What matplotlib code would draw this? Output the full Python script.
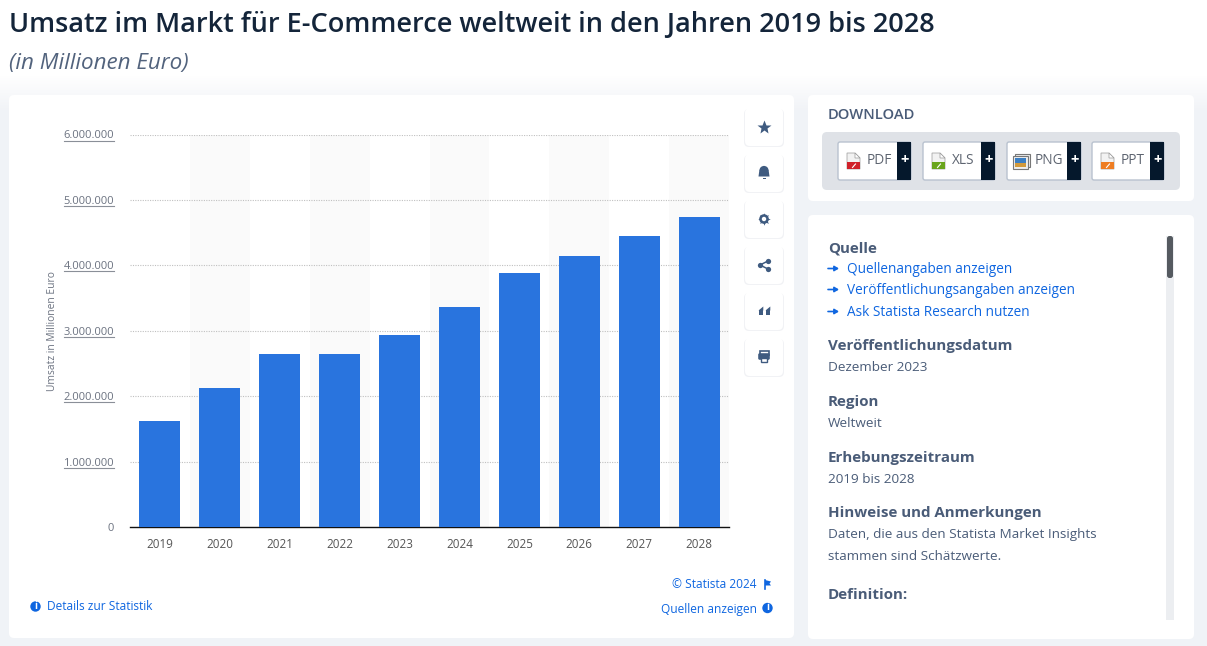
import matplotlib
matplotlib.use('Agg')
import matplotlib.pyplot as plt
import numpy as np
from matplotlib.patches import FancyBboxPatch, Rectangle, Polygon, Circle, Wedge

plt.rcParams['font.family'] = ['Open Sans', 'DejaVu Sans']

years = ['2019', '2020', '2021', '2022', '2023', '2024', '2025', '2026', '2027', '2028']
umsatz = [1620000, 2130000, 2650000, 2650000, 2930000, 3370000, 3890000, 4140000, 4450000, 4740000]
y_ticks = [0, 1000000, 2000000, 3000000, 4000000, 5000000, 6000000]
y_labels = ['0', '1.000.000', '2.000.000', '3.000.000', '4.000.000', '5.000.000', '6.000.000']

links = ['Quellenangaben anzeigen', 'Veröffentlichungsangaben anzeigen', 'Ask Statista Research nutzen']
formats = ['PDF', 'XLS', 'PNG', 'PPT']
format_colors = ['#d0212a', '#6aa51d', '#3b7fc4', '#ee7d22']

W, H = 1207, 646
NAVY = '#4a5c78'
ICON = '#3f5b80'
BLUE = '#0f66e0'
BAR = '#2974de'

fig = plt.figure(figsize=(W / 100, H / 100), dpi=100, facecolor='white')

# page layer in pixel coordinates
page = fig.add_axes([0, 0, 1, 1], zorder=0)
page.set_xlim(0, W)
page.set_ylim(H, 0)
page.axis('off')

# background goes from white behind the title to light grey behind the cards
shade = np.clip((np.arange(H) - 75) / 35, 0, 1).reshape(-1, 1, 1)
white = np.array([1.0, 1.0, 1.0]).reshape(1, 1, 3)
grey = np.array([0.945, 0.953, 0.969]).reshape(1, 1, 3)
page.imshow(white + (grey - white) * shade, extent=(0, W, H, 0), aspect='auto', zorder=0)
page.set_xlim(0, W)
page.set_ylim(H, 0)


def card(x, y, w, h, color='white', r=5, edge='none', lw=0, z=1):
    page.add_patch(FancyBboxPatch((x + r, y + r), w - 2 * r, h - 2 * r,
                                  boxstyle=f'round,pad={r},rounding_size={r}',
                                  fc=color, ec=edge, lw=lw, zorder=z))


def label(x, y, s, size=10, color=NAVY, weight='normal', ha='left', **kw):
    page.text(x, y + 1, s, fontsize=size, color=color, weight=weight, ha=ha, va='center', zorder=5, **kw)


label(9, 24, 'Umsatz im Markt für E-Commerce weltweit in den Jahren 2019 bis 2028',
      size=19.5, color='#14253a', weight='semibold')
label(9, 63, '(in Millionen Euro)', size=16.1, color='#52637d', style='italic')

card(9, 95, 785, 543)
card(808, 95, 386, 106)
card(808, 215, 386, 424)
card(822, 132, 358, 58, color='#dfe2e7')

# download buttons
btn_x = [838, 923, 1007, 1092]
btn_w = [73, 72, 74, 72]
for x, w, fmt, col in zip(btn_x, btn_w, formats, format_colors):
    card(x, 142, w, 38, edge='#b9c2cf', lw=1, r=2, z=2)
    page.add_patch(Rectangle((x + w - 14, 142), 14, 38, fc='#05182c', zorder=3))
    label(x + w - 6.5, 159.5, '+', size=10.5, color='white', weight='bold', ha='center')
    if fmt == 'PNG':
        label(x + 28, 159.5, fmt, size=9.8, color='#5d6470')
        page.add_patch(Rectangle((x + 8, 154), 15, 13, fc='#eeeeee', ec='#777777', lw=0.8, zorder=4))
        page.add_patch(Rectangle((x + 6, 156), 15, 13, fc='#eeeeee', ec='#777777', lw=0.8, zorder=4))
        page.add_patch(Rectangle((x + 8, 158), 11, 5, fc=col, zorder=4))
        page.add_patch(Rectangle((x + 8, 163), 11, 3.5, fc='#d29a3c', zorder=4))
    else:
        label(x + 29, 159.5, fmt, size=9.8, color='#5d6470')
        page.add_patch(Polygon([(x + 9, 153), (x + 17, 153), (x + 22, 158), (x + 22, 169), (x + 9, 169)],
                               fc='#f2f2f2', ec='#999999', lw=0.5, zorder=4))
        page.add_patch(Polygon([(x + 17, 153), (x + 22, 158), (x + 17, 158)], fc='white', ec='#999999', lw=0.5, zorder=4))
        page.add_patch(Rectangle((x + 9, 162), 13, 7, fc=col, zorder=4))
        page.plot([x + 14.5, x + 17.5], [167.5, 164], color='white', lw=0.8, zorder=5)

label(828, 114, 'DOWNLOAD', size=10.6, weight='semibold')

# tool buttons next to the chart
btn_tops = [108, 154, 200, 246, 292, 338]
for top in btn_tops:
    card(744, top + 1, 40, 38, color='#f1f2f5', z=2)
    card(745, top, 38, 38, z=2)

# star
page.plot([764], [127], marker='*', ms=10, color=ICON, mec='none', zorder=5)
# bell
page.add_patch(Wedge((764, 170.5), 4.6, 180, 360, fc=ICON, zorder=5))
page.add_patch(Polygon([(759.4, 170), (768.6, 170), (769.5, 176.5), (758.5, 176.5)], fc=ICON, zorder=5))
page.add_patch(Rectangle((762.5, 177.5), 3, 1, fc=ICON, zorder=5))
# gear
page.plot([764], [219], marker=(8, 1, 0), ms=9, color=ICON, mec='none', zorder=5)
page.add_patch(Circle((764, 219), 4.8, fc=ICON, zorder=5))
page.add_patch(Circle((764, 219), 2.2, fc='white', zorder=6))
# share
page.plot([768, 760, 768], [261, 265, 269], color=ICON, lw=1.1, zorder=5)
page.plot([768, 760, 768], [261, 265, 269], ls='none', marker='o', ms=3.8, color=ICON, mec='none', zorder=5)
# quote
for qx in [758.5, 765.5]:
    page.add_patch(Rectangle((qx, 310), 4.8, 4.5, fc=ICON, zorder=5))
    page.add_patch(Polygon([(qx, 310.5), (qx + 4.8, 306.5), (qx + 4.8, 310.5)], fc=ICON, zorder=5))
# printer
page.add_patch(Rectangle((759.5, 351), 9, 4, fc='white', ec=ICON, lw=1.2, zorder=5))
page.add_patch(FancyBboxPatch((759, 354), 10, 5, boxstyle='round,pad=0.8,rounding_size=1.5', fc=ICON, ec='none', zorder=5))
page.add_patch(Rectangle((761, 358), 6, 3.5, fc='white', ec=ICON, lw=1, zorder=6))

# info panel
label(828, 247.5, 'Quelle', size=10.9, weight='bold')
link_y = [268.5, 289.5, 311.5]
for yy, s in zip(link_y, links):
    page.annotate('', xy=(839, yy), xytext=(828, yy), zorder=5,
                  arrowprops=dict(arrowstyle='-|>,head_width=0.15,head_length=0.25', color=BLUE, lw=1.2, shrinkA=0, shrinkB=0))
    label(847, yy, s, size=9.8, color=BLUE)
label(828, 345, 'Veröffentlichungsdatum', size=10.9, weight='bold')
label(828, 366.5, 'Dezember 2023', size=9.7)
label(828, 401, 'Region', size=10.9, weight='bold')
label(828, 422.5, 'Weltweit', size=9.7)
label(828, 457, 'Erhebungszeitraum', size=10.9, weight='bold')
label(828, 478.5, '2019 bis 2028', size=9.7)
label(828, 512.5, 'Hinweise und Anmerkungen', size=10.9, weight='bold')
label(828, 533.5, 'Daten, die aus den Statista Market Insights', size=9.7)
label(828, 555.5, 'stammen sind Schätzwerte.', size=9.7)
label(828, 594, 'Definition:', size=10.9, weight='bold')

page.add_patch(Rectangle((1166, 236), 8, 384, fc='#eceef1', zorder=2))
card(1167, 236, 6, 42, color='#555a60', r=2.5, z=3)


def info(x, y):
    page.add_patch(Circle((x, y), 5.2, fc=BLUE, ec='none', zorder=5))
    page.text(x, y, 'i', color='white', fontsize=7, weight='bold', ha='center', va='center', zorder=6)


info(35.5, 606.5)
label(47, 606, 'Details zur Statistik', size=8.6, color=BLUE)
label(757, 584, '© Statista 2024', size=8.6, color=BLUE, ha='right')
page.plot([765, 765], [580, 589], color=BLUE, lw=1.2, zorder=5)
page.add_patch(Polygon([(765, 580), (771, 581.5), (769.5, 583.5), (771, 585.5), (765, 585.5)], fc=BLUE, zorder=5))
label(757, 608, 'Quellen anzeigen', size=8.6, color=BLUE, ha='right')
info(767.5, 608)

# chart axes: y=0 at px 527, y=6.000.000 at px 134.5, x from 130 to 729
ax = fig.add_axes([130 / W, 1 - 527 / H, 599 / W, 392.5 / H], zorder=2)
ax.patch.set_alpha(0)
ax.set_xlim(-0.5, 9.5)
ax.set_ylim(0, 6000000)
for i in range(1, 10, 2):
    ax.axvspan(i - 0.5, i + 0.5, color='#fafafa', lw=0, zorder=0)
ax.bar(range(len(years)), umsatz, width=0.685, color=BAR, zorder=3)
ax.set_yticks(y_ticks)
ax.set_yticklabels(y_labels)
ax.set_xticks(range(len(years)))
ax.set_xticklabels(years)
ax.grid(axis='y', color='#c0c0c0', ls=(0, (1, 1.2)), lw=0.8, zorder=1)
ax.set_axisbelow(False)
ax.tick_params(axis='both', length=0)
ax.tick_params(axis='y', labelsize=8, labelcolor='#6b7280', pad=11.5)
ax.tick_params(axis='x', labelsize=8.4, labelcolor='#555555', pad=8)
for side in ['top', 'right', 'left']:
    ax.spines[side].set_visible(False)
ax.spines['bottom'].set_color('#111111')
ax.spines['bottom'].set_linewidth(1)
ax.set_ylabel('Umsatz in Millionen Euro', fontsize=7.4, color='#6b7280')
ax.yaxis.set_label_coords(-0.12, 0.5)

# the y tick labels are underlined in the reference
for v in y_ticks[1:]:
    py = 527 - v / 6000000 * 392.5 + 6
    page.plot([64, 114], [py, py], color='#8a8f98', lw=0.8, zorder=5)

fig.savefig('out.png', dpi=100, facecolor=fig.get_facecolor())
